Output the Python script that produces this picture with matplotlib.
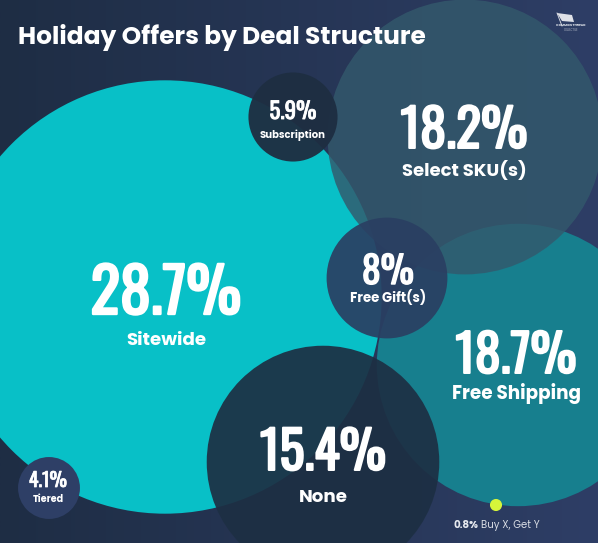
import matplotlib
matplotlib.use("Agg")
import matplotlib.pyplot as plt
import numpy as np
from matplotlib import font_manager as fm
from matplotlib import patheffects as pe
from matplotlib.patches import Circle, Polygon
from matplotlib.colors import LinearSegmentedColormap

# ---- data -------------------------------------------------------------
categories = ["Sitewide", "Select SKU(s)", "Free Shipping", "None",
              "Free Gift(s)", "Subscription", "Tiered", "Buy X, Get Y"]
shares = [28.7, 18.2, 18.7, 15.4, 8.0, 5.9, 4.1, 0.8]
share_labels = ["28.7%", "18.2%", "18.7%", "15.4%", "8%", "5.9%", "4.1%", "0.8%"]

# ---- layout (pixel coordinates, y downward) ---------------------------
W, H = 598, 543
radius_per_pct = 7.55
centers = {
    "Sitewide": (165, 297),
    "Select SKU(s)": (465, 137),
    "Free Shipping": (518, 365),
    "None": (323, 462),
    "Free Gift(s)": (387, 278),
    "Subscription": (293, 117),
    "Tiered": (49, 488),
    "Buy X, Get Y": (496, 505),
}
# fill colour, alpha, zorder
styles = {
    "Sitewide": ("#08c0c7", 1.0, 2),
    "Free Shipping": ("#177f8e", 1.0, 3),
    "Select SKU(s)": ("#33596c", 0.82, 4),
    "None": ("#1d2f43", 0.92, 5),
    "Free Gift(s)": ("#2a3f62", 0.92, 6),
    "Subscription": ("#1e2e42", 0.96, 7),
    "Tiered": ("#2e3f66", 1.0, 7),
    "Buy X, Get Y": ("#d6f53a", 1.0, 8),
}
# text: x, number baseline, number width, label baseline, label width
text_pos = {
    "Sitewide": (166, 314, 154, 345, 80),
    "Select SKU(s)": (464, 148, 130, 176, 124),
    "Free Shipping": (516, 373, 124, 399, 129),
    "None": (323, 470, 129, 502, 49),
    "Free Gift(s)": (388, 284, 53, 302, 76),
    "Subscription": (293, 119, 48, 138, 66),
    "Tiered": (48, 487, 39, 502, 31),
}

available = {f.name for f in fm.fontManager.ttflist}


def pick(candidates):
    for name in candidates:
        if name in available:
            return name
    return "DejaVu Sans"


NUM_FONT = pick(["Oswald", "Fjalla One", "Roboto Condensed", "Archivo Narrow",
                 "PT Sans Narrow", "Liberation Sans Narrow", "DejaVu Sans"])
LBL_FONT = pick(["Poppins", "Montserrat", "Open Sans", "DejaVu Sans"])

fig = plt.figure(figsize=(W / 100, H / 100), dpi=100)
ax = fig.add_axes([0, 0, 1, 1])
ax.set_xlim(0, W)
ax.set_ylim(H, 0)
ax.axis("off")
renderer = fig.canvas.get_renderer()


def fit_width(t, target):
    """Scale a text's font size so its rendered width equals target px."""
    for _ in range(2):
        w = t.get_window_extent(renderer).width
        if w > 0:
            t.set_fontsize(t.get_fontsize() * target / w)


# horizontal background gradient
bg = LinearSegmentedColormap.from_list("bg", ["#1e2d44", "#2e3e66"])
grad = np.linspace(0, 1, 256)[None, :]
ax.imshow(grad, cmap=bg, extent=[0, W, H, 0], aspect="auto", zorder=0)

# bubbles: radius proportional to share
for cat, val in zip(categories, shares):
    col, alpha, z = styles[cat]
    ax.add_patch(Circle(centers[cat], val * radius_per_pct, facecolor=col,
                        edgecolor="none", alpha=alpha, zorder=z))

# value + category labels
for cat, lab in zip(categories, share_labels):
    if cat not in text_pos:
        continue
    x, nb, nw, lb, lw = text_pos[cat]
    tn = ax.text(x, nb, lab, ha="center", va="baseline", color="white",
                 fontsize=30, fontweight="bold", family=NUM_FONT, zorder=10)
    fit_width(tn, nw * 0.98)
    # heavier strokes for the headline figures
    tn.set_path_effects([pe.withStroke(linewidth=tn.get_fontsize() * 0.038,
                                       foreground="white")])
    tl = ax.text(x, lb, cat, ha="center", va="baseline", color="white",
                 fontsize=12, fontweight="bold", family=LBL_FONT, zorder=10)
    fit_width(tl, lw)

# small bubble annotation below the dot
i = categories.index("Buy X, Get Y")
t1 = ax.text(453, 528, share_labels[i], ha="left", va="baseline",
             color="#e6e9ef", fontsize=7.3, fontweight="bold",
             family=LBL_FONT, zorder=10)
ax.annotate(categories[i], xy=(1, 0), xycoords=t1, xytext=(2, 0),
            textcoords="offset points", ha="left", va="bottom",
            color="#d8dce4", fontsize=7.3, family=LBL_FONT, zorder=10)

# title
tt = ax.text(18, 44, "Holiday Offers by Deal Structure", ha="left",
             va="baseline", color="white", fontsize=17, fontweight="bold",
             family=LBL_FONT, zorder=10)
fit_width(tt, 407)

# brand mark
ax.add_patch(Polygon([(557, 13), (572, 15), (574, 22), (562, 21)],
                     closed=True, facecolor="white", edgecolor="none",
                     alpha=0.85, zorder=10))
ax.plot([557, 562], [13, 26], color="white", lw=0.6, alpha=0.85, zorder=10)
ax.text(571, 26.5, "COMMON THREAD", ha="center", va="baseline",
        color="#dfe3ea", fontsize=2.3, fontweight="bold", family=LBL_FONT,
        zorder=10)
ax.text(571, 31, "COLLECTIVE", ha="center", va="baseline",
        color="#bfc5d0", fontsize=1.8, family=LBL_FONT, zorder=10)

fig.savefig("out.png", dpi=100)
